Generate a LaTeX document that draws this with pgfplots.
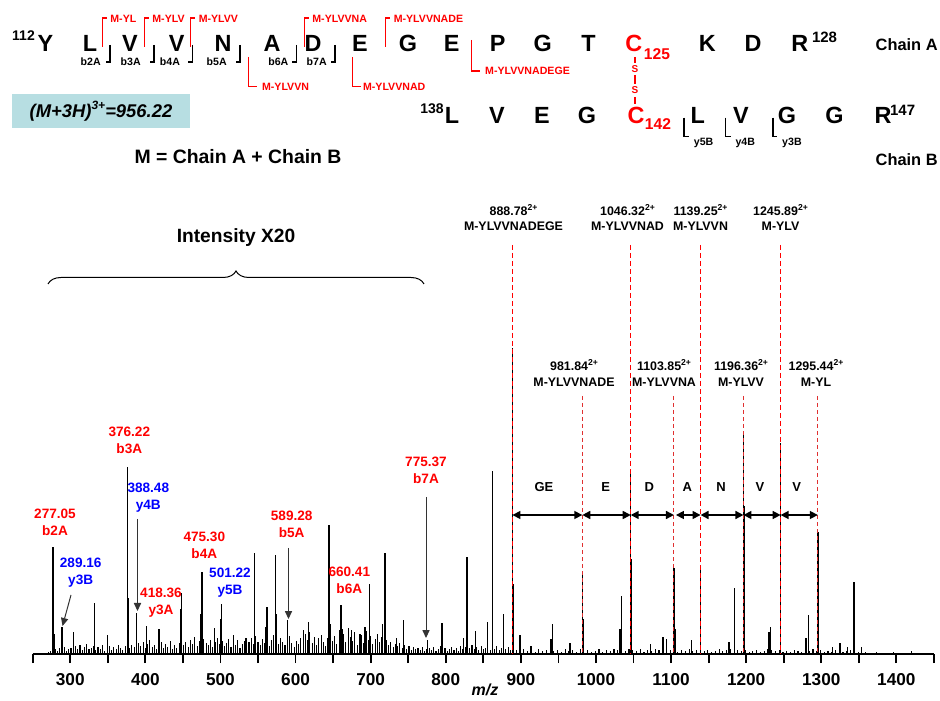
\documentclass[border=0pt]{standalone}
\usepackage{pgfplots}
\pgfplotsset{compat=1.18}
\usepackage{fontspec}
\setmainfont{Liberation Sans}
\usetikzlibrary{arrows.meta,decorations.pathreplacing}
\definecolor{boxfill}{HTML}{B7DEE2}
\definecolor{dred}{HTML}{E03030}
\definecolor{fred}{HTML}{FF0000}
\definecolor{fblue}{HTML}{0000FF}
\newcommand{\fs}[1]{\fontsize{#1}{#1}\selectfont\bfseries}
\newcommand{\sups}[3]{\raisebox{#2}{\fontsize{#1}{#1}\selectfont\bfseries #3}}
\tikzset{
  seq/.style={font=\fs{11.7}, inner sep=0, anchor=base},
  bl/.style={font=\fs{5.3}, inner sep=0, anchor=base},
  ml/.style={font=\fs{5.3}, inner sep=0, anchor=base west, text=fred},
  pk/.style={font=\fs{6.8}, inner sep=0, anchor=base},
  dl/.style={font=\fs{6.2}, inner sep=0, anchor=base},
  arr/.style={draw=black!80, line width=0.5pt, -{Triangle[length=4pt,width=3.6pt]}},
}
\begin{document}
\begin{tikzpicture}
\useasboundingbox (-16.35pt,-23pt) rectangle (453.65pt,327pt);
\begin{axis}[
  at={(0,0)}, anchor=south west,
  scale only axis, width=450.6pt, height=327pt,
  xmin=250, xmax=1450, ymin=0, ymax=654,
  axis x line*=bottom, axis y line=none,
  x axis line style={line width=1.1pt,-},
  xtick={300,400,...,1400}, minor xtick={250,350,...,1450},
  tick align=outside, major tick length=4.5pt, minor tick length=4.5pt,
  major tick style={line width=0.9pt,black}, minor tick style={line width=0.9pt,black},
  xticklabel style={font=\fs{8.6}, yshift=-1.5pt},
  /pgf/number format/assume math mode=true,
  /pgf/number format/1000 sep={},
  clip=false,
]
% baseline noise
\addplot[ycomb, black, line width=0.55pt, mark=none] table[row sep=\\] {
x y\\
271 2\\ 274 3\\ 277 4\\ 280 5\\ 283 3\\ 286 6\\ 289 4\\ 292 7\\ 295 3\\ 298 5\\
301 6\\ 304 4\\ 307 8\\ 310 5\\ 313 9\\ 316 4\\ 319 7\\ 322 10\\ 325 5\\ 328 6\\
331 8\\ 334 4\\ 337 7\\ 340 5\\ 343 9\\ 346 3\\ 349 6\\ 352 8\\ 355 4\\ 358 7\\
361 5\\ 364 9\\ 367 6\\ 370 4\\ 373 8\\ 376 10\\ 379 6\\ 382 9\\ 385 7\\ 388 5\\
391 11\\ 394 8\\ 397 12\\ 400 6\\ 403 10\\ 406 14\\ 409 7\\ 412 9\\ 415 5\\ 418 8\\
421 12\\ 424 6\\ 427 10\\ 430 7\\ 433 13\\ 436 5\\ 439 9\\ 442 6\\ 445 11\\ 448 15\\
451 9\\ 454 12\\ 457 7\\ 460 14\\ 463 10\\ 466 17\\ 469 8\\ 472 13\\ 475 20\\ 478 15\\
481 11\\ 484 9\\ 487 14\\ 490 7\\ 493 12\\ 496 16\\ 499 10\\ 502 13\\ 505 8\\ 508 11\\
511 15\\ 514 7\\ 517 12\\ 520 9\\ 523 14\\ 526 6\\ 529 10\\ 532 13\\ 535 8\\ 538 12\\
541 16\\ 544 10\\ 547 18\\ 550 12\\ 553 9\\ 556 15\\ 559 11\\ 562 17\\ 565 8\\ 568 14\\
571 19\\ 574 13\\ 577 10\\ 580 16\\ 583 12\\ 586 9\\ 589 14\\ 592 18\\ 595 11\\ 598 7\\
601 13\\ 604 10\\ 607 16\\ 610 12\\ 613 20\\ 616 14\\ 619 22\\ 622 11\\ 625 17\\ 628 9\\
631 15\\ 634 19\\ 637 12\\ 640 8\\ 643 16\\ 646 21\\ 649 13\\ 652 18\\ 655 10\\ 658 24\\
661 15\\ 664 20\\ 667 12\\ 670 26\\ 673 17\\ 676 13\\ 679 22\\ 682 9\\ 685 16\\ 688 19\\
691 11\\ 694 23\\ 697 14\\ 700 18\\ 703 10\\ 706 15\\ 709 20\\ 712 12\\ 715 17\\ 718 22\\
721 14\\ 724 9\\ 727 12\\ 730 7\\ 733 10\\ 736 8\\ 739 11\\ 742 6\\ 745 9\\ 748 5\\
751 8\\ 754 4\\ 757 7\\ 760 5\\ 763 6\\ 766 4\\ 769 7\\ 772 3\\ 775 5\\ 778 6\\
781 4\\ 784 7\\ 787 3\\ 790 5\\ 793 8\\ 796 4\\ 799 6\\ 802 3\\ 805 5\\ 808 7\\
811 4\\ 814 6\\ 817 3\\ 820 8\\ 823 5\\ 826 7\\ 829 4\\ 832 6\\ 835 9\\ 838 5\\
841 7\\ 844 4\\ 847 8\\ 850 5\\ 853 6\\ 856 9\\ 859 4\\ 862 7\\ 865 5\\ 868 8\\
871 4\\ 874 6\\ 877 9\\ 880 5\\ 883 7\\ 886 4\\ 889 6\\
894 4\\ 899 3\\ 904 5\\ 909 3\\ 914 4\\ 919 2\\ 924 5\\ 929 3\\ 934 4\\ 939 6\\
944 3\\ 949 4\\ 954 2\\ 959 5\\ 964 3\\ 969 4\\ 974 2\\ 979 5\\ 984 3\\ 989 4\\
994 2\\ 999 3\\ 1004 5\\ 1009 2\\ 1014 4\\ 1019 3\\ 1024 5\\ 1029 4\\ 1034 6\\ 1039 3\\
1044 5\\ 1049 4\\ 1054 3\\ 1059 5\\ 1064 2\\ 1069 4\\ 1074 3\\ 1079 5\\ 1084 4\\ 1089 6\\
1094 3\\ 1099 4\\ 1104 3\\ 1109 2\\ 1114 4\\ 1119 3\\ 1124 5\\ 1129 3\\ 1134 4\\ 1139 2\\
1144 3\\ 1149 4\\ 1154 2\\ 1159 3\\ 1164 5\\ 1169 3\\ 1174 4\\ 1179 5\\ 1184 3\\ 1189 4\\
1194 3\\ 1199 4\\ 1204 2\\ 1209 3\\ 1214 4\\ 1219 2\\ 1224 3\\ 1229 5\\ 1234 4\\ 1239 3\\
1244 4\\ 1249 2\\ 1254 3\\ 1259 2\\ 1264 4\\ 1269 3\\ 1274 2\\ 1279 4\\ 1284 3\\ 1289 5\\
1294 3\\ 1299 4\\ 1304 2\\ 1309 3\\ 1314 2\\ 1319 4\\ 1324 3\\ 1329 2\\ 1334 3\\ 1339 4\\
1344 3\\ 1349 2\\ 1354 3\\ 1359 2\\ 1366 1\\ 1373 2\\ 1380 1\\ 1388 1\\ 1396 2\\ 1404 1\\
1412 1\\ 1420 2\\ 1428 1\\ 1436 1\\
};
% main peaks
\addplot[ycomb, black, line width=0.7pt, mark=none] table[row sep=\\] {
x y\\
277.05 107\\ 278.6 20\\ 289.16 27\\ 304.6 22\\ 332.6 51\\ 349.9 19\\ 376.22 187\\ 377.4 56\\
388.48 41\\ 401.5 28\\ 418.36 25\\ 446.5 45\\ 448.1 61\\ 473.8 40\\ 475.30 82\\ 491.8 26\\
499.8 35\\ 501.22 50\\ 517.6 19\\ 534.0 16\\ 545.5 101\\ 560.3 27\\ 562.0 47\\ 572.9 99\\
574.5 40\\ 589.28 34\\ 610.3 24\\ 617.3 32\\ 630.3 16\\ 644.6 129\\ 646.0 30\\ 660.41 49\\
661.8 25\\ 674.8 24\\ 685.9 20\\ 692.5 27\\ 698.8 70\\ 716.1 30\\ 719.1 101\\ 734.7 16\\
743.5 34\\ 775.37 14\\ 794.9 31\\ 823.4 16\\ 828.2 97\\ 839.9 23\\ 855.9 32\\ 861.9 183\\
876.7 40\\ 888.78 306\\ 890.0 70\\ 899 19\\ 913.6 8\\ 940 15\\ 941.9 30\\ 965.5 11\\
981.84 81\\ 983.2 35\\ 1032.0 25\\ 1034.3 58\\ 1046.32 181\\ 1047.6 95\\ 1072.4 10\\
1089.3 17\\ 1093.7 15\\ 1103.85 86\\ 1105.2 25\\ 1127.5 14\\ 1139.25 86\\ 1177.2 12\\
1184.2 66\\ 1196.36 223\\ 1197.6 148\\ 1230.4 22\\ 1232.7 27\\ 1245.89 211\\ 1279.7 16\\
1282.7 39\\ 1295.44 122\\ 1296.6 35\\ 1314.7 7\\ 1325 11\\ 1334.7 7\\ 1343.6 72\\
1353.9 7\\ 1420.5 3\\
};
% dashed guide lines
\foreach \m in {888.78,1046.32,1139.25,1245.89}{
  \edef\tmp{\noexpand\draw[fred, line width=0.6pt, dash pattern=on 2.5pt off 1.5pt] (axis cs:\m,409) -- (axis cs:\m,0);}\tmp
}
\foreach \m in {981.84,1103.85,1196.36,1295.44}{
  \edef\tmp{\noexpand\draw[dred, line width=0.5pt, dash pattern=on 2pt off 1.5pt] (axis cs:\m,258) -- (axis cs:\m,0);}\tmp
}
% double arrows
\foreach \a/\b in {888.78/981.84,981.84/1046.32,1046.32/1103.85,1106.5/1139.25,1139.25/1196.36,1196.36/1245.89,1245.89/1295.44}{
  \edef\tmp{\noexpand\draw[black, line width=0.8pt, {Triangle[length=4pt,width=4pt]}-{Triangle[length=4pt,width=4pt]}] (axis cs:\a,139) -- (axis cs:\b,139);}\tmp
}
\end{axis}

\begin{scope}[x=0.5pt,y=-0.5pt,shift={(-16.35pt,327pt)}]
% ---------- chain A ----------
\node[font=\fs{7}, inner sep=0, anchor=base] at (23.5,41) {112};
\foreach \x/\l in {45.5/Y,90/L,130/V,176.7/V,223/N,272/A,313/D,360/E,408/G,451.7/E,497.6/P,542.6/G,588.6/T,707.4/K,753/D,799.8/R}
  \node[seq] at (\x,51.7) {\l};
\node[seq, text=fred] at (633.7,51.7) {C};
\node[font=\fs{7.8}, inner sep=0, anchor=base, text=fred] at (657,59.6) {125};
\node[font=\fs{7.5}, inner sep=0, anchor=base] at (824.5,43) {128};
\node[font=\fs{8.2}, inner sep=0, anchor=base east] at (938,50.9) {Chain A};
% b ions
\foreach \v/\c/\t in {110/90.7/b2A,154/130.7/b3A,192.7/170/b4A,240/216.7/b5A,296.7/278.3/b6A,335/316.7/b7A}{
  \draw[black, line width=0.7pt] (\v,45) -- (\v,62) -- (\v-4.5,62);
  \node[bl] at (\c,65.8) {\t};
}
% M- upper brackets
\foreach \v/\t in {102.3/M-YL,144.3/M-YLV,190.7/M-YLVV,304.3/M-YLVVNA,385.7/M-YLVVNADE}{
  \draw[fred, line width=0.75pt] (\v,47) -- (\v,18) -- (\v+4.5,18);
  \node[ml] at (\v+7.7,22.1) {\t};
}
% M- lower brackets
\draw[fred, line width=0.75pt] (248.3,57) -- (248.3,86.7) -- (256.7,86.7);
\node[ml] at (261.7,90.5) {M-YLVVN};
\draw[fred, line width=0.75pt] (352.7,57) -- (352.7,86.7) -- (360.5,86.7);
\node[ml] at (362.7,90.5) {M-YLVVNAD};
\draw[fred, line width=0.75pt] (471.7,40) -- (471.7,71) -- (480.3,71);
\node[ml] at (484.8,74.8) {M-YLVVNADEGE};
% S-S bond
\draw[fred, line width=0.75pt] (635,57) -- (635,63) (635,75) -- (635,84) (635,97) -- (635,104);
\node[font=\fs{5}, text=fred, inner sep=0] at (635,69) {S};
\node[font=\fs{5}, text=fred, inner sep=0] at (635,90.5) {S};
% ---------- chain B ----------
\node[font=\fs{7}, inner sep=0, anchor=base] at (432,114) {138};
\foreach \x/\l in {452/L,497/V,542/E,587/G,697.7/L,741/V,787/G,834.4/G,883/R}
  \node[seq] at (\x,123.9) {\l};
\node[seq, text=fred] at (636,123.9) {C};
\node[font=\fs{7.8}, inner sep=0, anchor=base, text=fred] at (658,130) {142};
\node[font=\fs{7.5}, inner sep=0, anchor=base] at (902.6,116) {147};
\node[font=\fs{8.2}, inner sep=0, anchor=base east] at (938,165.2) {Chain B};
\foreach \v/\w/\t in {684/689/y5B,725.4/730.6/y4B,773/777.3/y3B}{
  \draw[black, line width=0.7pt] (\v,117.7) -- (\v,136.7) -- (\w,136.7);
  \node[font=\fs{5.3}, inner sep=0, anchor=base west] at (\w+4.5,145.4) {\t};
}
% box
\fill[boxfill] (12,94) rectangle (190,128);
\node[font=\fs{9.2}\itshape, inner sep=0] at (101,111) {(M+3H)\sups{6}{0.45em}{3+}=956.22};
\node[font=\fs{9.7}, inner sep=0] at (238,157) {M = Chain A + Chain B};
% intensity
\node[font=\fs{9.6}, inner sep=0] at (236,238) {Intensity X20};
\draw[black, line width=0.5pt, decorate, decoration={brace, amplitude=6.5pt}] (48,284) -- (424,284);
% 2+ labels
\foreach \c/\n/\t in {513.5/888.78/M-YLVVNADEGE,627.5/1046.32/M-YLVVNAD,700.5/1139.25/M-YLVVN,780.5/1245.89/M-YLV}{
  \node[dl] at (\c,216) {\n\sups{4.3}{0.45em}{2+}};
  \node[dl] at (\c,231) {\t};
}
\foreach \c/\n/\t in {574/981.84/M-YLVVNADE,664/1103.85/M-YLVVNA,741/1196.36/M-YLVV,816/1295.44/M-YL}{
  \node[dl] at (\c,371) {\n\sups{4.3}{0.45em}{2+}};
  \node[dl] at (\c,386.5) {\t};
}
% arrow letters
\foreach \c/\t in {544/GE,605.7/E,649.3/D,687.3/A,721/N,760/V,796.7/V}
  \node[font=\fs{6.5}, inner sep=0, anchor=base] at (\c,491.7) {\t};
% fragment labels
\foreach \c/\y/\n/\t/\col in {55/518.9/277.05/b2A/fred,80.7/567.6/289.16/y3B/fblue,129.3/436.9/376.22/b3A/fred,148.3/492.6/388.48/y4B/fblue,161/597.6/418.36/y3A/fred,204.3/541.6/475.30/b4A/fred,230/577.2/501.22/y5B/fblue,291.7/520.9/589.28/b5A/fred,349.3/576.6/660.41/b6A/fred,426/466.6/775.37/b7A/fred}{
  \node[pk, text=\col] at (\c,\y) {\n};
  \node[pk, text=\col] at (\c,\y+17) {\t};
}
\draw[arr] (71,595) -- (62.5,626);
\draw[arr] (137.5,519) -- (137.5,611);
\draw[arr] (288.5,548) -- (288.5,619);
\draw[arr] (426,497) -- (426,638);
% axis label
\node[font=\fs{8}\itshape, inner sep=0] at (485,690) {m/z};
\end{scope}
\end{tikzpicture}
\end{document}
